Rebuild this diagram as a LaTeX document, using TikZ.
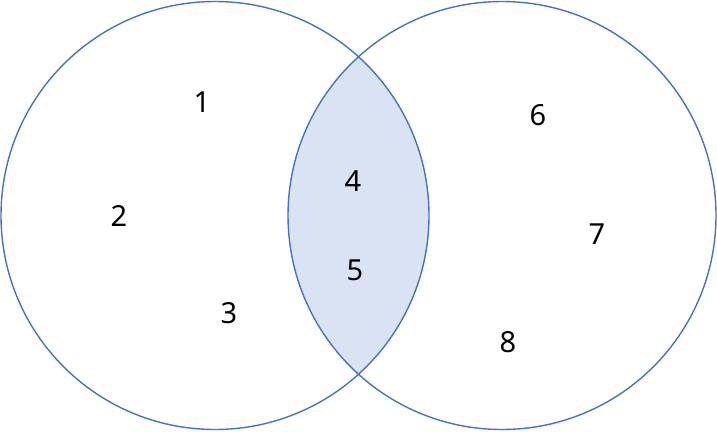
\documentclass[tikz,border=0pt]{standalone}
\usepackage{fontspec}
\setmainfont{Noto Sans}
\usepackage{tikz}
\definecolor{setline}{HTML}{4472C4}
\definecolor{setfill}{HTML}{DAE3F3}

\begin{document}
\begin{tikzpicture}[
  x=1pt, y=-1pt,
  every node/.style={font=\fontsize{29}{30}\selectfont},
  setcircle/.style={draw=setline, line width=1.4pt},
  num/.style={inner sep=0pt}
]
\useasboundingbox (0,0) rectangle (717,431);
\coordinate (cl) at (215,215.5);
\coordinate (cr) at (502,215.5);

% shared part
\begin{scope}
  \clip (cl) circle (214);
  \fill[setfill] (cr) circle (214);
\end{scope}
\draw[setcircle] (cl) circle (214);
\draw[setcircle] (cr) circle (214);

\node[num] (n1) at (202,102) {1};
\node[num] (n2) at (119,216) {2};
\node[num] (n3) at (229,313) {3};
\node[num] (n4) at (353,181) {4};
\node[num] (n5) at (355,270) {5};
\node[num] (n6) at (538,115) {6};
\node[num] (n7) at (597,234) {7};
\node[num] (n8) at (508,342) {8};
\end{tikzpicture}
\end{document}
